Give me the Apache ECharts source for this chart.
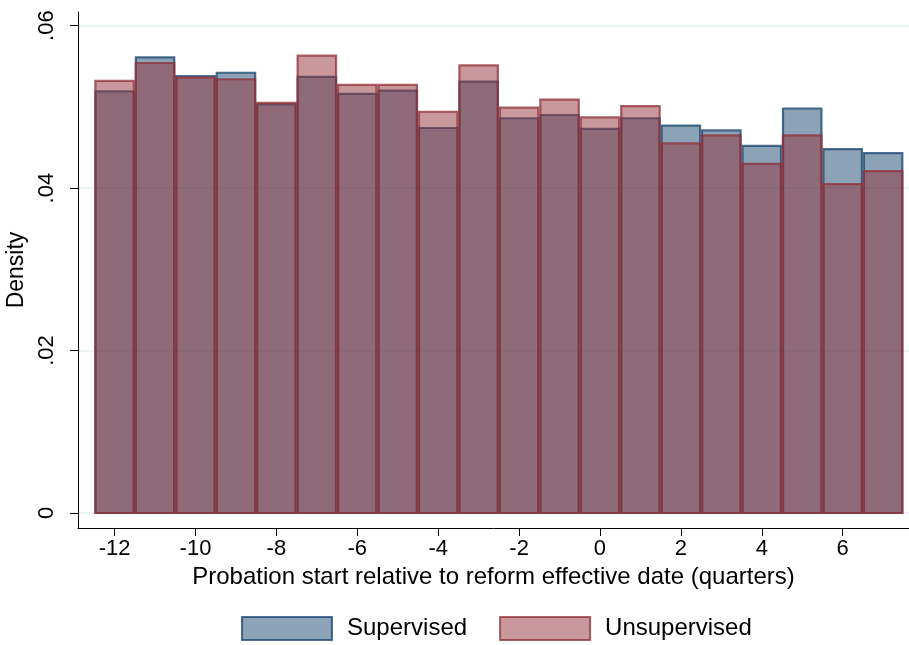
<!DOCTYPE html>
<html>
<head>
<meta charset="utf-8">
<script src="https://cdn.jsdelivr.net/npm/echarts@6/dist/echarts.min.js"></script>
<style>
html,body{margin:0;padding:0;background:#fff;}
#chart{width:909px;height:645px;}
</style>
</head>
<body>
<div id="chart"></div>
<script>
var bins = [-12,-11,-10,-9,-8,-7,-6,-5,-4,-3,-2,-1,0,1,2,3,4,5,6,7];
var supervised = [0.0519,0.0561,0.0538,0.0542,0.0503,0.0537,0.0516,0.0520,0.0474,0.0531,0.0486,0.0490,0.0473,0.0486,0.0477,0.0471,0.0452,0.0498,0.0448,0.0443];
var unsupervised = [0.0532,0.0554,0.0536,0.0534,0.0505,0.0563,0.0527,0.0527,0.0494,0.0551,0.0499,0.0509,0.0487,0.0501,0.0455,0.0465,0.0430,0.0465,0.0405,0.0421];
var xTicks = [-12,-10,-8,-6,-4,-2,0,2,4,6];
var yTicks = [0,0.02,0.04,0.06];
var seriesNames = ['Supervised','Unsupervised'];

var FONT = '"Liberation Sans", Arial, sans-serif';
var blueFill = 'rgba(25,69,109,0.5)', blueLine = 'rgba(25,69,109,0.76)';
var redFill = 'rgba(145,49,57,0.5)', redLine = 'rgba(145,49,57,0.76)';

function toData(vals){ return bins.map(function(b,i){ return [b, vals[i]]; }); }
function render(fill, line){
  return function(params, api){
    var x = api.value(0), v = api.value(1);
    var p0 = api.coord([x-0.5, v]);
    var p1 = api.coord([x+0.5, 0]);
    return {
      type:'rect',
      shape:{x:p0[0]+1, y:p0[1], width:p1[0]-p0[0]-2, height:p1[1]-p0[1]},
      style:{fill:fill, stroke:line, lineWidth:2.2}
    };
  };
}
function fmtY(v){ if (v===0) return '0'; return v.toFixed(2).replace(/^0/,''); }

var chart = echarts.init(document.getElementById('chart'), null, {renderer:'canvas'});
chart.setOption({
  animation:false,
  backgroundColor:'#fff',
  textStyle:{fontFamily:FONT},
  grid:{left:78, right:0, top:12, bottom:117, containLabel:false, outerBoundsMode:'none'},
  legend:{
    top:611, left:236,
    itemWidth:90, itemHeight:23, itemGap:32,
    textStyle:{fontFamily:FONT, fontSize:24, color:'#000', padding:[0,0,0,10]},
    data:[
      {name:seriesNames[0], icon:'rect', itemStyle:{color:blueFill, borderColor:blueLine, borderWidth:2}},
      {name:seriesNames[1], icon:'rect', itemStyle:{color:redFill, borderColor:redLine, borderWidth:2}}
    ]
  },
  xAxis:{
    type:'value', min:-12.905, max:7.64,
    name:'Probation start relative to reform effective date (quarters)',
    nameLocation:'middle', nameGap:36,
    nameTextStyle:{fontFamily:FONT, fontSize:24, color:'#000'},
    axisLine:{show:true, onZero:false, lineStyle:{color:'#000', width:1}},
    axisTick:{show:true, customValues:xTicks, length:8, lineStyle:{color:'#000'}},
    axisLabel:{customValues:xTicks, fontFamily:FONT, fontSize:22, color:'#000', margin:10},
    splitLine:{show:false}
  },
  yAxis:{
    type:'value', min:-0.001847, max:0.06168,
    name:'Density', nameLocation:'middle', nameGap:42,
    nameTextStyle:{fontFamily:FONT, fontSize:23, color:'#000'},
    axisLine:{show:true, onZero:false, lineStyle:{color:'#000', width:1}},
    axisTick:{show:true, customValues:yTicks, length:8, lineStyle:{color:'#000'}},
    axisLabel:{customValues:yTicks, rotate:90, fontFamily:FONT, fontSize:22, color:'#000', margin:20, formatter:fmtY},
    splitLine:{show:true, lineStyle:{color:'#e4eef1', width:1.5}}
  },
  series:[
    {name:seriesNames[0], type:'custom', renderItem:render(blueFill, blueLine), data:toData(supervised), itemStyle:{color:blueFill}},
    {name:seriesNames[1], type:'custom', renderItem:render(redFill, redLine), data:toData(unsupervised), itemStyle:{color:redFill}}
  ]
});
</script>
</body>
</html>
